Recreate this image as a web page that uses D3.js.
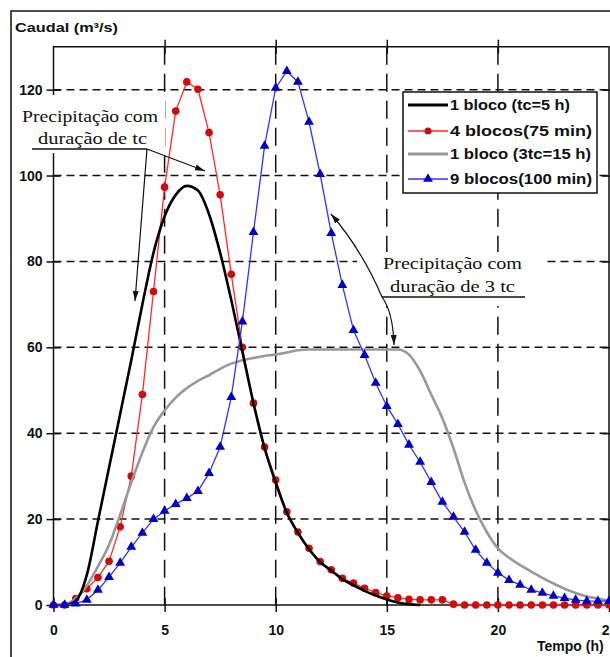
<!DOCTYPE html>
<html>
<head>
<meta charset="utf-8">
<script src="https://cdn.jsdelivr.net/npm/d3@7"></script>
<style>
  body { margin: 0; background: #fff; }
  text { font-family: "Liberation Sans", Arial, sans-serif; }
  text.nota { font-family: "Liberation Serif", "Times New Roman", serif; }
</style>
</head>
<body>
<div id="chart"></div>
<script>
// tempo (h) - passo de 0.5 h
const horas = [0, 0.5, 1, 1.5, 2, 2.5, 3, 3.5, 4, 4.5, 5, 5.5, 6, 6.5, 7, 7.5, 8, 8.5, 9, 9.5,
    10, 10.5, 11, 11.5, 12, 12.5, 13, 13.5, 14, 14.5, 15, 15.5, 16, 16.5, 17, 17.5, 18, 18.5, 19, 19.5,
    20, 20.5, 21, 21.5, 22, 22.5, 23, 23.5, 24, 24.5, 25];

// 1 bloco (tc=5 h)
const bloco1 = [0, 0, 1, 7, 19.5, 32, 44.5, 57, 70, 82, 90.5, 95.5, 97.6, 96.5, 91, 82, 71, 59, 47, 36.5,
    28.5, 21.5, 16.8, 13, 10, 8, 6, 4.6, 3.3, 2.2, 1.3, 0.6, 0.2, 0];

// 4 blocos (75 min)
const blocos4 = [0, 0, 1.5, 3.8, 6.4, 10.2, 18.2, 30, 49, 73, 97.3, 115, 121.8, 120.1, 110, 95.5, 77, 60, 47, 36.8,
    29.1, 21.7, 17, 13.2, 10.1, 8.2, 6.2, 5.1, 3.9, 2.9, 2.1, 1.7, 1.3, 1.2, 1.2, 1.2, 0.2, 0, 0, 0,
    0, 0, 0, 0, 0, 0, 0, 0, 0, 0, 0];

// 1 bloco (3tc=15 h)
const bloco3tc = [0, 0, 1.5, 4.5, 9, 14, 21, 28.5, 35.5, 41.4, 45.3, 48.3, 50.5, 52.2, 53.5, 55, 56.2, 57, 57.5, 58,
    58.3, 58.8, 59.3, 59.5, 59.5, 59.5, 59.5, 59.5, 59.5, 59.5, 59.5, 59.5, 58.3, 54.5, 49, 43.5, 36.5, 28.5, 22, 17,
    13.2, 11, 9.3, 7.8, 6.3, 5, 3.8, 2.8, 2, 1.5, 1];

// 9 blocos (100 min)
const blocos9 = [0, 0, 0.3, 1.2, 3.5, 6.5, 9.8, 13.5, 16.8, 20, 21.9, 23.5, 24.9, 26.5, 30.7, 36.8, 48.4, 66, 86.8, 106.9,
    120.4, 124.3, 121.8, 112.5, 100.3, 86.6, 74.5, 64, 58.2, 51.7, 46.3, 42.1, 37.3, 33.3, 28.6, 24, 20.5, 17, 12.8, 9.8,
    7.5, 5.8, 4.7, 3.5, 2.8, 2.1, 1.6, 1.2, 0.9, 0.9, 0.9];

const xTicks = [0, 5, 10, 15, 20, 25];
const yTicks = [0, 20, 40, 60, 80, 100, 120];
const legendLabels = ["1 bloco (tc=5 h)", "4 blocos(75 min)", "1 bloco (3tc=15 h)", "9 blocos(100 min)"];

const svg = d3.select("#chart")
    .append("svg")
    .attr("width", 610)
    .attr("height", 657);

const x = d3.scaleLinear().domain([0, 25]).range([53.5, 609]);
const y = d3.scaleLinear().domain([0, 130]).range([605, 46.7]);

// moldura exterior
svg.append("path")
    .attr("d", "M11,700 L11,11 L700,11")
    .attr("fill", "none")
    .attr("stroke", "#111")
    .attr("stroke-width", 1.5);

// grelha tracejada
svg.append("g").selectAll("line")
    .data(yTicks.slice(1))
    .join("line")
    .attr("x1", x(0)).attr("x2", x(25))
    .attr("y1", d => y(d)).attr("y2", d => y(d))
    .attr("stroke", "#111")
    .attr("stroke-width", 1.5)
    .attr("stroke-dasharray", "8,5");

svg.append("g").selectAll("line")
    .data(xTicks.slice(1, -1))
    .join("line")
    .attr("x1", d => x(d)).attr("x2", d => x(d))
    .attr("y1", y(130)).attr("y2", y(0))
    .attr("stroke", "#111")
    .attr("stroke-width", 1.5)
    .attr("stroke-dasharray", "18,9");

// caixas brancas das anotacoes
svg.append("rect").attr("x", 20).attr("y", 93).attr("width", 145).attr("height", 63).attr("fill", "#fff");
svg.append("rect").attr("x", 357).attr("y", 252).attr("width", 188).attr("height", 54).attr("fill", "#fff");

// eixos (tracos cruzados)
function crossTicks(g, horizontal) {
    g.select(".domain").remove();
    g.selectAll(".tick line")
        .attr("stroke", "#111")
        .attr("stroke-width", 1.5)
        .each(function() {
            if (horizontal) d3.select(this).attr("y1", -7).attr("y2", 7);
            else d3.select(this).attr("x1", -7).attr("x2", 7);
        });
    g.selectAll(".tick text")
        .attr("font-weight", "bold")
        .attr("font-size", 14)
        .attr("fill", "#111");
}

svg.append("g")
    .attr("transform", `translate(0,${y(0)})`)
    .call(d3.axisBottom(x).tickValues(xTicks).tickSize(7).tickPadding(13).tickFormat(d3.format("d")))
    .call(g => crossTicks(g, true));

svg.append("g")
    .attr("transform", `translate(${x(0)},0)`)
    .call(d3.axisLeft(y).tickValues(yTicks).tickSize(7).tickPadding(4).tickFormat(d3.format("d")))
    .call(g => crossTicks(g, false));

svg.append("g")
    .attr("transform", `translate(0,${y(130)})`)
    .call(d3.axisTop(x).tickValues(xTicks.slice(1, -1)).tickSize(7).tickFormat(""))
    .call(g => crossTicks(g, true));

svg.append("g")
    .attr("transform", `translate(${x(25)},0)`)
    .call(d3.axisRight(y).tickValues(yTicks.slice(1)).tickSize(7).tickFormat(""))
    .call(g => crossTicks(g, false));

// bordas da area do grafico
svg.append("path")
    .attr("d", `M${x(0)},${y(130)} L${x(0)},${y(0)} L${x(25)},${y(0)} L${x(25)},${y(130)} Z`)
    .attr("fill", "none")
    .attr("stroke", "#111")
    .attr("stroke-width", 1.5);

// re-tapar o eixo por baixo do texto da anotacao
svg.append("rect").attr("x", 48).attr("y", 95).attr("width", 12).attr("height", 58).attr("fill", "#fff");

const smooth = d3.line()
    .x((d, i) => x(horas[i]))
    .y(d => y(d))
    .curve(d3.curveMonotoneX);

const straight = d3.line()
    .x((d, i) => x(horas[i]))
    .y(d => y(d));

// 4 blocos
svg.append("path")
    .attr("d", straight(blocos4))
    .attr("fill", "none")
    .attr("stroke", "#ff2a2a")
    .attr("stroke-width", 1.3);

svg.append("g").selectAll("circle")
    .data(blocos4)
    .join("circle")
    .attr("cx", (d, i) => x(horas[i]))
    .attr("cy", d => y(d))
    .attr("r", 3.8)
    .attr("fill", "#d20a0a");

// 1 bloco 3tc
svg.append("path")
    .attr("d", smooth(bloco3tc))
    .attr("fill", "none")
    .attr("stroke", "#999")
    .attr("stroke-width", 2.6);

// 1 bloco tc
svg.append("path")
    .attr("d", smooth(bloco1))
    .attr("fill", "none")
    .attr("stroke", "#000")
    .attr("stroke-width", 2.6);

// 9 blocos
svg.append("path")
    .attr("d", straight(blocos9))
    .attr("fill", "none")
    .attr("stroke", "#3333ff")
    .attr("stroke-width", 1.3);

const tri = d3.symbol().type(d3.symbolTriangle).size(42);
svg.append("g").selectAll("path")
    .data(blocos9)
    .join("path")
    .attr("d", tri)
    .attr("transform", (d, i) => `translate(${x(horas[i])},${y(d)})`)
    .attr("fill", "#0000c8");

// legenda
const legend = svg.append("g");
legend.append("rect")
    .attr("x", 403).attr("y", 92)
    .attr("width", 194).attr("height", 101)
    .attr("fill", "#fff")
    .attr("stroke", "#111")
    .attr("stroke-width", 1.5);

const legendY = [105, 131, 154, 179];
const legendW = [120, 142, 141, 142];
const legendStyle = [
    {color: "#000", width: 3, mark: null},
    {color: "#ff2a2a", width: 1.3, mark: "circle", markColor: "#d20a0a"},
    {color: "#999", width: 3, mark: null},
    {color: "#3333ff", width: 1.3, mark: "tri", markColor: "#0000c8"}
];

legendLabels.forEach((lab, i) => {
    const st = legendStyle[i];
    legend.append("line")
        .attr("x1", 408).attr("x2", 448)
        .attr("y1", legendY[i]).attr("y2", legendY[i])
        .attr("stroke", st.color)
        .attr("stroke-width", st.width);
    if (st.mark === "circle") {
        legend.append("circle").attr("cx", 428).attr("cy", legendY[i]).attr("r", 3.5).attr("fill", st.markColor);
    } else if (st.mark === "tri") {
        legend.append("path").attr("d", tri).attr("transform", `translate(428,${legendY[i]})`).attr("fill", st.markColor);
    }
    legend.append("text")
        .attr("x", 450)
        .attr("y", legendY[i] + 5)
        .attr("font-weight", "bold")
        .attr("font-size", 14)
        .attr("textLength", legendW[i])
        .attr("lengthAdjust", "spacingAndGlyphs")
        .attr("fill", "#111")
        .text(lab);
});

// titulos dos eixos
svg.append("text")
    .attr("x", 15).attr("y", 32)
    .attr("font-weight", "bold")
    .attr("font-size", 13.5)
    .attr("textLength", 103)
    .attr("lengthAdjust", "spacingAndGlyphs")
    .attr("fill", "#111")
    .text("Caudal (m³/s)");

svg.append("text")
    .attr("x", 537).attr("y", 651)
    .attr("font-weight", "bold")
    .attr("font-size", 14)
    .attr("fill", "#111")
    .text("Tempo (h)");

// anotacoes
svg.append("defs").append("marker")
    .attr("id", "seta")
    .attr("viewBox", "0 0 10 6")
    .attr("refX", 10).attr("refY", 3)
    .attr("markerWidth", 10).attr("markerHeight", 6)
    .attr("markerUnits", "userSpaceOnUse")
    .attr("orient", "auto")
    .append("path")
    .attr("d", "M0,0 L10,3 L0,6 Z")
    .attr("fill", "#111");

const notes = [
    {text: "Precipitação com", x: 22, y: 122, w: 136},
    {text: "duração de tc", x: 38, y: 144, w: 109},
    {text: "Precipitação com", x: 383, y: 269, w: 139},
    {text: "duração de 3 tc", x: 390, y: 292, w: 125}
];
svg.append("g").selectAll("text")
    .data(notes)
    .join("text")
    .attr("class", "nota")
    .attr("x", d => d.x).attr("y", d => d.y)
    .attr("textLength", d => d.w)
    .attr("lengthAdjust", "spacingAndGlyphs")
    .attr("font-size", 16)
    .attr("fill", "#111")
    .text(d => d.text);

const underlines = [
    "M32,149 L147,149",
    "M382,297 L525,297"
];
underlines.forEach(d => svg.append("path").attr("d", d).attr("stroke", "#111").attr("stroke-width", 1.3).attr("fill", "none"));

const pointers = [
    "M147,149 L205,171",
    "M147,149 L135,301",
    "M382,297 Q362,250 331,214",
    "M382,297 Q393,312 394,345"
];
pointers.forEach(d => svg.append("path")
    .attr("d", d)
    .attr("stroke", "#111")
    .attr("stroke-width", 1.2)
    .attr("fill", "none")
    .attr("marker-end", "url(#seta)"));
</script>
</body>
</html>
